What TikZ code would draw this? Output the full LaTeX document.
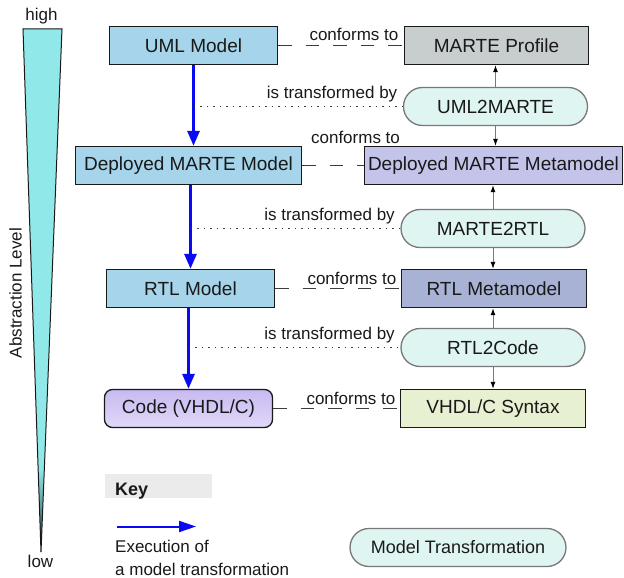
\documentclass[tikz,border=0pt]{standalone}
\usepackage{fontspec}
\setmainfont{Liberation Sans}
\usetikzlibrary{arrows.meta,positioning}
\definecolor{txt}{RGB}{25,25,25}
\definecolor{umlblue}{RGB}{166,212,234}
\definecolor{profgray}{RGB}{200,206,206}
\definecolor{deplav}{RGB}{196,196,234}
\definecolor{rtlmm}{RGB}{168,178,212}
\definecolor{syntax}{RGB}{232,240,210}
\definecolor{trfill}{RGB}{222,245,242}
\definecolor{trline}{RGB}{120,120,120}
\definecolor{codetop}{RGB}{200,186,240}
\definecolor{codebot}{RGB}{224,216,250}
\definecolor{execblue}{RGB}{10,10,240}
\definecolor{dashgray}{RGB}{60,60,60}
\definecolor{keygray}{RGB}{235,235,235}
\definecolor{abscyan}{RGB}{144,232,232}
\definecolor{tipdark}{RGB}{40,60,60}
\pgfdeclareverticalshading{abslevel}{100bp}{color(0bp)=(tipdark); color(25bp)=(tipdark); color(33bp)=(abscyan); color(100bp)=(abscyan)}
\begin{document}
\begin{tikzpicture}[x=1pt, y=-1pt,
    every node/.style={inner sep=0pt, text=txt, font=\fontsize{19}{22}\selectfont},
    model/.style={draw=txt, line width=1.3pt, minimum height=38pt},
    trans/.style={draw=trline, line width=1.3pt, fill=trfill, rounded corners=19pt, minimum width=184pt, minimum height=38pt},
    lbl/.style={font=\fontsize{17}{22.5}\selectfont},
    exec/.style={draw=execblue, line width=3pt, -{Triangle[length=15pt, width=12pt]}},
    conf/.style={draw=dashgray, line width=1pt, dash pattern=on 13.5pt off 14pt},
    tby/.style={draw=dashgray, line width=1.2pt, dash pattern=on 1.5pt off 5pt},
    uses/.style={draw=trline, line width=1pt, -{Latex[length=7pt, width=5pt, black]}},
    keybox/.style={fill=keygray, inner xsep=10pt, text width=87pt, align=left, text height=21.5pt, text depth=2.5pt, font=\fontsize{18}{21}\selectfont\bfseries}]
    \useasboundingbox (0,0) rectangle (624,578);
    % abstraction scale
    \shade[shading=abslevel, draw=txt, line width=1pt] (23,29) -- (62,29) -- (41,552) -- cycle;
    \node[lbl] (high) at (41.5,16.5) {high};
    \node[lbl] (low) at (40.5,561.5) {low};
    \node[lbl, rotate=90] (abst) at (15.5,293) {Abstraction Level};
    % models
    \node[model, fill=umlblue, minimum width=168pt] (uml) at (193.5,45.5) {UML Model};
    \node[model, fill=umlblue, minimum width=226pt] (dep) at (188.5,165.5) {Deployed MARTE Model};
    \node[model, fill=umlblue, minimum width=168pt] (rtl) at (190.5,288.5) {RTL Model};
    \node[model, rounded corners=8pt, top color=codetop, bottom color=codebot, minimum width=168pt] (code) at (188.5,408.5) {Code (VHDL/C)};
    % metamodels and transformations
    \node[model, fill=profgray, minimum width=184pt] (prof) at (496.5,45.5) {MARTE Profile};
    \node[trans] (u2m) at (495.5,106.5) {UML2MARTE};
    \node[model, fill=deplav, minimum width=258pt] (depmm) at (493.5,165.5) {Deployed MARTE Metamodel};
    \node[trans] (m2r) at (493,228.5) {MARTE2RTL};
    \node[model, fill=rtlmm, minimum width=185pt] (rtlmm) at (494,288.5) {RTL Metamodel};
    \node[trans] (r2c) at (493,347.5) {RTL2Code};
    \node[model, fill=syntax, minimum width=185pt] (syn) at (493,408.5) {VHDL/C Syntax};
    % execution
    \draw[exec] (uml.south) -- (uml.south |- dep.north);
    \draw[exec] (rtl.north |- dep.south) -- (rtl.north);
    \draw[exec] (code.north |- rtl.south) -- (code.north);
    % conforms to
    \draw[conf] (uml.east) -- (prof.west) node[lbl, above left=4pt and 5pt] {conforms to};
    \draw[conf] (dep.east) -- (depmm.west);
    \node[lbl] (conf2) at (355.5,137.5) {conforms to};
    \draw[conf] (rtl.east) -- (rtlmm.west) node[lbl, above left=3.5pt and 4pt] {conforms to};
    \draw[conf] (code.east) -- (syn.west) node[lbl, above left=3.5pt and 4pt] {conforms to};
    % is transformed by
    \draw[tby] (uml.south |- u2m.west) -- (u2m.west) node[lbl, above left=4pt and 5pt] {is transformed by};
    \draw[tby] (rtl.north |- m2r.west) -- (m2r.west) node[lbl, above left=4pt and 5pt] {is transformed by};
    \draw[tby] (code.north |- r2c.west) -- (r2c.west) node[lbl, above left=4pt and 5pt] {is transformed by};
    % source and target
    \draw[uses] (u2m.north) -- (u2m.north |- prof.south);
    \draw[uses] (u2m.south) -- (u2m.south |- depmm.north);
    \draw[uses] (m2r.north) -- (m2r.north |- depmm.south);
    \draw[uses] (m2r.south) -- (m2r.south |- rtlmm.north);
    \draw[uses] (r2c.north) -- (r2c.north |- rtlmm.south);
    \draw[uses] (r2c.south) -- (r2c.south |- syn.north);
    % key
    \node[keybox, anchor=north west] (key) at (105,474) {Key};
    \coordinate (ka) at (117,526.5);
    \coordinate (kb) at (196,526.5);
    \draw[exec, line width=2pt, -{Triangle[length=17pt, width=11pt]}] (ka) -- (kb);
    \node[lbl, align=left, anchor=north west] (kexec) at (115,540) {Execution of\\a model transformation};
    \node[trans, minimum width=216pt, font=\fontsize{18}{21}\selectfont] (ktrans) at (458,547.5) {Model Transformation};
\end{tikzpicture}
\end{document}
